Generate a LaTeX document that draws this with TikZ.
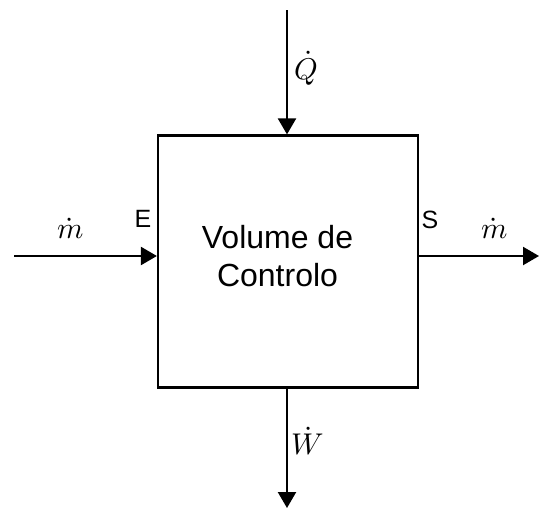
\documentclass[tikz,border=0pt]{standalone}
\usepackage{fontspec}
\usepackage{unicode-math}
\setmainfont{Liberation Sans}
\setmathfont{Latin Modern Math}
\usetikzlibrary{arrows.meta}
\tikzset{
  flow/.style={line width=2.2pt,-{Triangle[length=16pt,width=18pt]}},
  lbl/.style={inner sep=0pt,font=\fontsize{25}{30}\selectfont},
  mlbl/.style={inner sep=0pt,font=\fontsize{30}{36}\selectfont}
}
\begin{document}
\begin{tikzpicture}[x=1pt,y=-1pt]
\useasboundingbox (0,0) rectangle (539,509);
\node[draw,line width=2.2pt,minimum width=260pt,minimum height=252pt,inner sep=0pt] (box) at (288,261.5) {};
\node[inner sep=0pt,align=center,font=\fontsize{32}{38}\selectfont] (vc) at (277.5,256) {Volume de\\Controlo};
\coordinate (qin) at (287,10);
\coordinate (win) at (14,256);
\coordinate (wout) at (539,256);
\coordinate (wdn) at (287,508);
\draw[flow] (qin) -- (qin |- box.north);
\draw[flow] (win) -- (win -| box.west);
\draw[flow] (win -| box.east) -- (wout);
\draw[flow] (qin |- box.south) -- (wdn);
\node[mlbl] (q) at (306,68) {$\dot{Q}$};
\node[mlbl] (m1) at (71,229) {$\dot{m}$};
\node[mlbl] (m2) at (495,229) {$\dot{m}$};
\node[mlbl] (w) at (308,441) {$\dot{W}$};
\node[lbl] (e) at (143,219) {E};
\node[lbl] (s) at (430,220) {S};
\end{tikzpicture}
\end{document}
